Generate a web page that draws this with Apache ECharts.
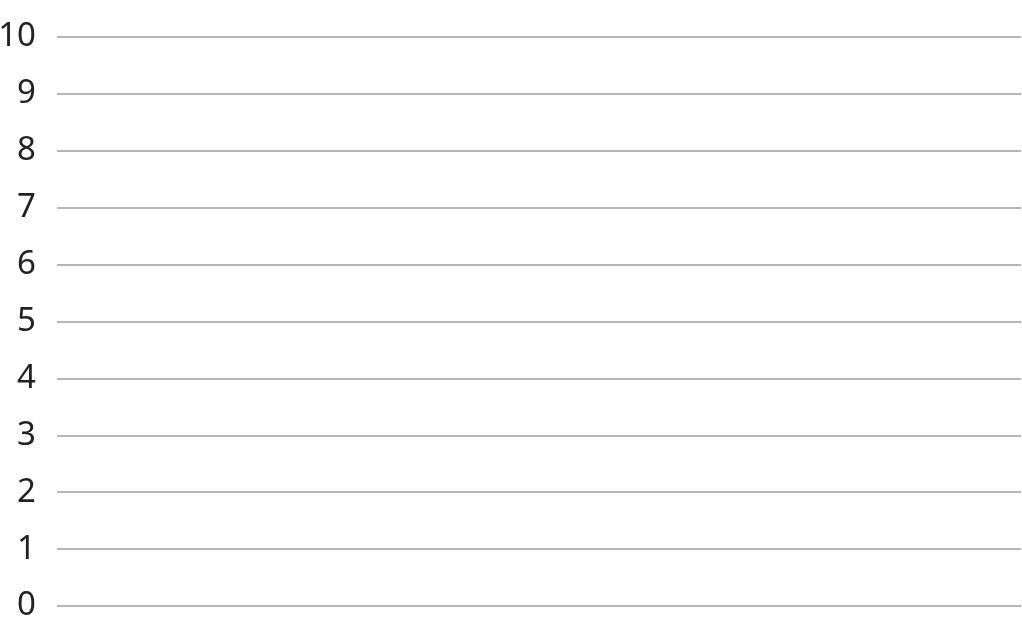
<!DOCTYPE html>
<html><head><meta charset="utf-8">
<script src="https://cdn.jsdelivr.net/npm/echarts@6/dist/echarts.min.js"></script>
<style>html,body{margin:0;padding:0;background:#fff}#c{width:1022px;height:630px}</style>
</head><body><div id="c"></div>
<script>
const categories = [];
const values = [];
const yMin = 0, yMax = 10, yStep = 1;
const chart = echarts.init(document.getElementById('c'), null, {renderer:'canvas'});
chart.setOption({
  animation:false,
  grid:{left:57,right:1,top:37,bottom:24,containLabel:false,outerBoundsMode:'none'},
  xAxis:{type:'category',data:categories,show:false},
  yAxis:{type:'value',min:yMin,max:yMax,interval:yStep,
    axisLine:{show:false},axisTick:{show:false},
    axisLabel:{margin:21,color:'#222',fontSize:33,fontFamily:'Noto Sans',padding:[4,0,0,0]},
    splitLine:{lineStyle:{color:'#9e9e9e',width:1.6}}},
  series:[{type:'bar',data:values}]
});
</script></body></html>
